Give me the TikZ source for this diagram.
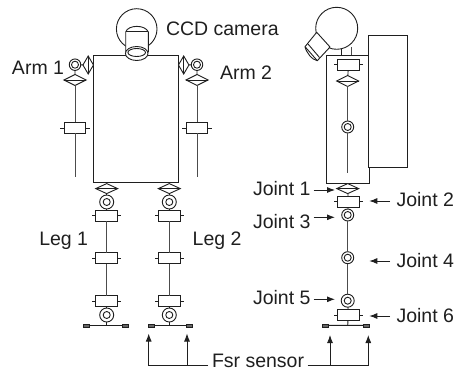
\documentclass[tikz,border=0pt]{standalone}
\usepackage{fontspec}
\setmainfont{Liberation Sans}
\usetikzlibrary{shapes.geometric,arrows.meta}
\definecolor{ink}{gray}{0.12}
\definecolor{rod}{gray}{0.3}
\tikzset{
  lab/.style={anchor=base west,inner sep=0pt,outer sep=0pt,text=ink,font=\fontsize{19.5}{19.5}\selectfont},
  hdia/.style={draw=ink,fill=white,diamond,shape aspect=2,minimum width=22pt,minimum height=11pt,inner sep=0pt,outer sep=0pt},
  vdia/.style={draw=ink,fill=white,diamond,shape aspect=0.55,minimum width=10.5pt,minimum height=18pt,inner sep=0pt,outer sep=0pt},
  ball/.style={draw=ink,fill=white,circle,minimum size=#1,inner sep=0pt,outer sep=0pt},
  ball/.default=12pt,
  inball/.style={draw=ink,circle,minimum size=7pt,inner sep=0pt,outer sep=0pt},
  jbox/.style={draw=ink,fill=white,rectangle,minimum width=21.8pt,minimum height=11pt,inner sep=0pt,outer sep=0pt},
  sens/.style={draw=ink,fill=black!60,rectangle,minimum width=6pt,minimum height=3pt,inner sep=0pt,outer sep=0pt},
  rodline/.style={draw=rod,line width=1pt},
  arr/.style={-{Latex[length=8pt,width=6pt]},draw=ink},
}
% name x y
\newcommand{\jballs}[4]{\node[ball=#4] (#1) at (#2,#3) {}; \node[inball] (#1i) at (#2,#3) {};}
\newcommand{\jboxt}[3]{\node[jbox] (#1) at (#2,#3) {};
  \draw (#1.west) -- ++(-3.8,0) (#1.east) -- ++(3.8,0);}
\begin{document}
\begin{tikzpicture}[x=1pt,y=-1pt,line width=0.9pt,draw=ink]
\useasboundingbox (0,0) rectangle (454,371);
% ---------- front view ----------
\draw (136.7,29) circle[radius=20.3pt];
\node[draw=ink,rectangle,minimum width=84.6pt,minimum height=127pt,inner sep=0pt,outer sep=0pt] (body) at (136,119.2) {};
\draw[fill=white] (125.7,52) -- (125.7,32) .. controls (128,24.5) and (145.5,24.5) .. (148.3,32) -- (148.3,52) -- cycle;
\draw (125.7,31) -- (148.3,31);
\draw[fill=white] (136.7,53.5) ellipse[x radius=11.3pt,y radius=7pt];
\draw (136.7,52.5) ellipse[x radius=8.8pt,y radius=4pt];
% arm 1
\coordinate (a1end) at (75,177);
\node[hdia] (a1d) at (75,80) {};
\jboxt{a1b}{75}{128}
\jballs{a1s}{75}{64.7}{11.5pt}
\node[vdia] (a1v) at (88.2,65) {};
\draw[rodline] (a1d) -- (a1b) (a1b) -- (a1end);
\draw (a1s) -- (a1d) (a1s) -- (a1v) (a1v) -- (body.west |- a1v);
\draw (a1d.west) -- (a1d.east) (a1v.north) -- (a1v.south);
% arm 2
\coordinate (a2end) at (197,177);
\node[hdia] (a2d) at (197,80) {};
\jboxt{a2b}{197}{128}
\jballs{a2s}{197}{64.7}{11.5pt}
\node[vdia] (a2v) at (183.7,65) {};
\draw[rodline] (a2d) -- (a2b) (a2b) -- (a2end);
\draw (a2s) -- (a2d) (a2s) -- (a2v) (a2v) -- (body.east |- a2v);
\draw (a2d.west) -- (a2d.east) (a2v.north) -- (a2v.south);
% legs
\foreach \n/\x/\fa/\fb in {l/106.7/83.3/128.3,r/169.3/148.3/192.7}{
  \node[hdia,minimum height=10pt] (\n d) at (\x,188.6) {};
  \draw (\n d.west) -- (\n d.east);
  \jballs{\n s}{\x}{202}{14pt}
  \jboxt{\n a}{\x}{215.7}
  \jboxt{\n c}{\x}{258.3}
  \jboxt{\n e}{\x}{301}
  \jballs{\n t}{\x}{315}{14pt}
  \coordinate (\n fl) at (\fa+3,325.3);
  \coordinate (\n fr) at (\fb-3,325.3);
  \coordinate (\n fm) at (\x,325.3);
  \draw (\n fl) -- (\n fr) (\n t) -- (\n fm) (\n d) -- (\n s) (\n s) -- (\n a) (\n e) -- (\n t);
  \draw[rodline] (\n a) -- (\n c) (\n c) -- (\n e);
  \node[sens] (\n sl) at (\fa+3,326) {};
  \node[sens] (\n sr) at (\fb-3,326) {};
}
% ---------- side view ----------
\draw (341.7,47) -- (341.7,55.5);
\draw[rodline] (351.7,47) -- (351.7,55.5);
\node[draw=ink,rectangle,minimum width=42.6pt,minimum height=127.5pt,inner sep=0pt,outer sep=0pt] (sbody) at (348,119.3) {};
\node[draw=ink,fill=white,rectangle,minimum width=38.7pt,minimum height=132pt,inner sep=0pt,outer sep=0pt] (sback) at (387.6,101.7) {};
\draw[fill=white] (336.7,28.3) circle[radius=21pt];
\draw[fill=white,line join=round] (316.7,32.3) -- (330,47) -- (317.3,60.7) -- (305,46.7) -- cycle;
\draw (305,46.7) .. controls (306,52) and (312,60) .. (317.3,60.7);
\draw (308,44) -- (319.5,57.5);
% side joints
\coordinate (sm1) at (347.7,173);
\jboxt{s1}{348.3}{64.7}
\node[hdia] (s2) at (347.7,81) {};
\jballs{s3}{347.7}{127}{12pt}
\draw (s2.west) -- (s2.east);
\draw (s1) -- (s2);
\draw[rodline] (s2) -- (s3) (s3) -- (sm1);
\node[hdia,minimum height=10pt] (j1) at (347.7,188.6) {};
\draw (j1.west) -- (j1.east);
\jboxt{j2}{348.3}{201.7}
\jballs{j3}{347.7}{215}{12pt}
\jballs{j4}{347.7}{257.7}{12pt}
\jballs{j5}{347.7}{300.7}{13pt}
\jboxt{j6}{348.3}{315}
\coordinate (sfl) at (325,325.3);
\coordinate (sfr) at (366,325.3);
\coordinate (sfm) at (347.7,325.3);
\draw (j1) -- (j2) (j2) -- (j3) (j5) -- (j6) (j6) -- (sfm) (sfl) -- (sfr);
\draw[rodline] (j3) -- (j4) (j4) -- (j5);
\node[sens] (ssl) at (325,326.3) {};
\node[sens] (ssr) at (366,326.3) {};
% ---------- labels ----------
\node[lab] (ccd) at (166,35.7) {CCD camera};
\node[lab] (arm1) at (12,75) {Arm 1};
\node[lab] (arm2) at (220,80) {Arm 2};
\node[lab] (leg1) at (39.3,245) {Leg 1};
\node[lab] (leg2) at (192.7,245) {Leg 2};
\node[lab] (t1) at (253,195) {Joint 1};
\node[lab] (t3) at (253,228) {Joint 3};
\node[lab] (t5) at (253,304.5) {Joint 5};
\node[lab] (t2) at (396.5,206) {Joint 2};
\node[lab] (t4) at (396.5,267) {Joint 4};
\node[lab] (t6) at (396.5,322) {Joint 6};
\node[lab] (fsr) at (212,367.5) {Fsr sensor};
% arrows
\coordinate (c1) at (335,190); \coordinate (c1a) at (313.5,190);
\coordinate (c3) at (335,217.3); \coordinate (c3a) at (313.5,217.3);
\coordinate (c5) at (335,299.3); \coordinate (c5a) at (313.5,299.3);
\draw[arr] (c1a) -- (c1);
\draw[arr] (c3a) -- (c3);
\draw[arr] (c5a) -- (c5);
\coordinate (c2) at (369.3,201); \coordinate (c2a) at (390,201);
\coordinate (c4) at (369.3,261); \coordinate (c4a) at (390,261);
\coordinate (c6) at (369.3,316); \coordinate (c6a) at (390,316);
\draw[arr] (c2a) -- (c2);
\draw[arr] (c4a) -- (c4);
\draw[arr] (c6a) -- (c6);
% fsr
\coordinate (fl) at (208,365.7);
\coordinate (fr) at (307.5,365.7);
\coordinate (f1) at (148.7,333.5);
\coordinate (f2) at (187,333.5);
\coordinate (f3) at (330,335);
\coordinate (f4) at (368.3,335);
\draw[arr] (fl) -- (187,365.7) -- (f2);
\draw[arr] (187,365.7) -- (148.7,365.7) -- (f1);
\draw[arr] (fr) -- (330,365.7) -- (f3);
\draw[arr] (330,365.7) -- (368.3,365.7) -- (f4);
\end{tikzpicture}
\end{document}
